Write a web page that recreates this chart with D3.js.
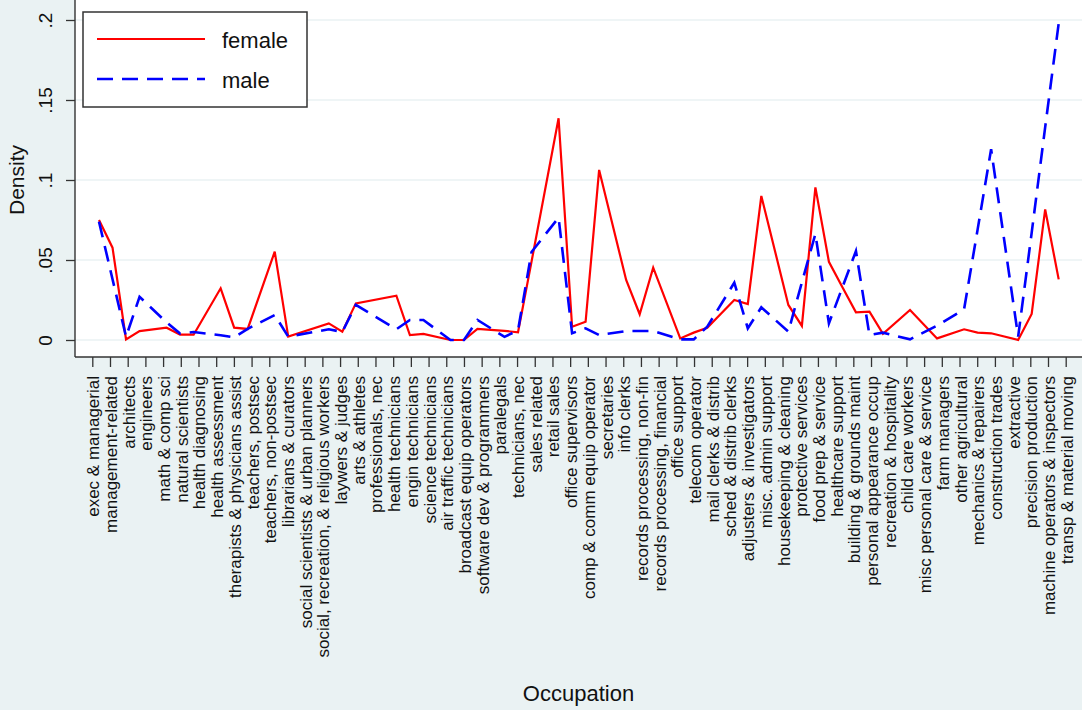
<!DOCTYPE html>
<html>
<head>
<meta charset="utf-8">
<script src="https://cdn.jsdelivr.net/npm/d3@7"></script>
<style>
  body { margin: 0; background: #eaf2f3; }
  svg text { font-family: "Liberation Sans", Arial, sans-serif; fill: #111; }
</style>
</head>
<body>
<div id="chart"></div>
<script>
// Occupation labels along the x axis (evenly spaced)
const occupations = [
  "exec & managerial", "management-related", "architects", "engineers",
  "math & comp sci", "natural scientists", "health diagnosing", "health assessment",
  "therapists & physicians assist", "teachers, postsec", "teachers, non-postsec",
  "librarians & curators", "social scientists & urban planners",
  "social, recreation, & religious workers", "laywers & judges", "arts & athletes",
  "professionals, nec", "health technicians", "engin technicians", "science technicians",
  "air traffic technicians", "broadcast equip operators", "software dev & programmers",
  "paralegals", "technicians, nec", "sales related", "retail sales", "office supervisors",
  "comp & comm equip operator", "secretaries", "info clerks", "records processing, non-fin",
  "records processing, financial", "office support", "telecom operator",
  "mail clerks & distrib", "sched & distrib clerks", "adjusters & investigators",
  "misc. admin support", "housekeeping & cleaning", "protective services",
  "food prep & service", "healthcare support", "building & grounds maint",
  "personal appearance occup", "recreation & hospitality", "child care workers",
  "misc personal care & service", "farm managers", "other agricultural",
  "mechanics & repairers", "construction trades", "extractive", "precision production",
  "machine operators & inspectors", "transp & material moving"
];

// Numeric occupation codes of the plotted points
const occCodes = [
  0, 1, 2, 3, 5, 6, 7, 9, 10, 11, 13, 14, 17, 18, 19, 22, 23, 24, 26, 27, 28,
  30, 31, 32, 34, 35, 36, 37, 39, 40, 41, 43, 44, 45, 47, 48, 49, 51, 52, 53,
  54, 55, 56, 57, 58, 60, 62, 64, 65, 66, 68, 69, 70, 71
];

const femaleDensity = [
  0.075, 0.0577, 0.0004, 0.0056, 0.0077, 0.0033, 0.0033, 0.0323, 0.0077, 0.0069,
  0.0552, 0.0021, 0.0104, 0.0052, 0.0229, 0.0277, 0.0031, 0.0038, 0.0, 0.0,
  0.0069, 0.0057, 0.0048, 0.049, 0.1386, 0.0083, 0.0114, 0.1063, 0.0375, 0.0161,
  0.0452, 0.001, 0.0046, 0.0077, 0.025, 0.0225, 0.09, 0.0219, 0.0088, 0.0954,
  0.0489, 0.033, 0.0173, 0.0177, 0.0038, 0.0188, 0.001, 0.0067, 0.0046, 0.0042,
  0.0, 0.0163, 0.0816, 0.0379
];

const maleDensity = [
  0.074, 0.038, 0.002, 0.027, 0.011, 0.004, 0.005, 0.003, 0.0017, 0.007,
  0.0156, 0.0021, 0.0067, 0.005, 0.0219, 0.0067, 0.0125, 0.0125, 0.0, 0.0,
  0.0125, 0.002, 0.006, 0.055, 0.0765, 0.0042, 0.0073, 0.0031, 0.0056, 0.0056,
  0.0056, 0.0004, 0.0004, 0.0083, 0.0358, 0.0073, 0.0204, 0.0052, 0.036, 0.0663,
  0.0104, 0.033, 0.0556, 0.0031, 0.0046, 0.0004, 0.009, 0.0192, 0.069, 0.1192,
  0.0021, 0.067, 0.133, 0.198
];

const yTicks = [0, 0.05, 0.1, 0.15, 0.2];

const series = [
  { name: "female", values: femaleDensity, color: "#ff0000", dash: null, width: 2.2 },
  { name: "male", values: maleDensity, color: "#0000ff", dash: "16,9", width: 2.6 }
];

const W = 1082, H = 710;
const plot = { left: 75, right: 1082, top: 0, bottom: 357 };

const svg = d3.select("#chart")
  .append("svg")
  .attr("width", W)
  .attr("height", H);

// outer background and white plot region
svg.append("rect").attr("width", W).attr("height", H).attr("fill", "#eaf2f3");
svg.append("rect")
  .attr("x", plot.left).attr("y", plot.top)
  .attr("width", plot.right - plot.left).attr("height", plot.bottom - plot.top)
  .attr("fill", "#ffffff");

// scales
const x = d3.scaleLinear().domain([0, 71]).range([99, 1058.7]);
const xLab = d3.scalePoint().domain(occupations).range([92.3, 1065.7]);
const y = d3.scaleLinear().domain([0, 0.2]).range([340, 20]);

// gridlines
svg.append("g")
  .selectAll("line")
  .data(yTicks)
  .join("line")
  .attr("x1", plot.left).attr("x2", plot.right)
  .attr("y1", d => y(d)).attr("y2", d => y(d))
  .attr("stroke", "#eaf2f3")
  .attr("stroke-width", 1.6);

// lines
const line = d3.line()
  .x((d, i) => x(occCodes[i]))
  .y(d => y(d));

series.forEach(s => {
  svg.append("path")
    .datum(s.values)
    .attr("fill", "none")
    .attr("stroke", s.color)
    .attr("stroke-width", s.width)
    .attr("stroke-dasharray", s.dash)
    .attr("stroke-linejoin", "miter")
    .attr("d", line);
});

// y axis
const yAxis = svg.append("g")
  .attr("transform", `translate(${plot.left},0)`)
  .call(d3.axisLeft(y)
    .tickValues(yTicks)
    .tickSize(9)
    .tickSizeOuter(0)
    .tickFormat(d => d === 0 ? "0" : String(+d.toFixed(2)).replace(/^0/, "")));
yAxis.select(".domain").remove();
yAxis.selectAll(".tick line").attr("stroke", "#333").attr("stroke-width", 1.3);
yAxis.selectAll(".tick text")
  .attr("transform", "rotate(-90)")
  .attr("text-anchor", "middle")
  .attr("x", 0)
  .attr("y", -23)
  .attr("dy", 0)
  .style("font-size", "19px")
  .style("fill", "#111");
svg.append("line")
  .attr("x1", plot.left).attr("x2", plot.left)
  .attr("y1", plot.top).attr("y2", plot.bottom)
  .attr("stroke", "#333").attr("stroke-width", 1.4);

// x axis
const xAxis = svg.append("g")
  .attr("transform", `translate(0,${plot.bottom})`)
  .call(d3.axisBottom(xLab).tickSize(10).tickSizeOuter(0));
xAxis.select(".domain").remove();
xAxis.selectAll(".tick line").attr("stroke", "#333").attr("stroke-width", 1.3);
xAxis.selectAll(".tick text")
  .attr("transform", "rotate(-90)")
  .attr("text-anchor", "end")
  .attr("x", -19)
  .attr("y", 6.5)
  .attr("dy", 0)
  .style("font-size", "17px")
  .style("fill", "#111");
svg.append("line")
  .attr("x1", plot.left).attr("x2", plot.right)
  .attr("y1", plot.bottom).attr("y2", plot.bottom)
  .attr("stroke", "#333").attr("stroke-width", 1.4);

// axis titles
svg.append("text")
  .attr("transform", "translate(24,180) rotate(-90)")
  .attr("text-anchor", "middle")
  .style("font-size", "21px")
  .text("Density");

svg.append("text")
  .attr("x", (plot.left + plot.right) / 2)
  .attr("y", 701)
  .attr("text-anchor", "middle")
  .style("font-size", "22px")
  .text("Occupation");

// legend
const legend = svg.append("g");
legend.append("rect")
  .attr("x", 83).attr("y", 12)
  .attr("width", 224).attr("height", 95)
  .attr("fill", "#ffffff")
  .attr("stroke", "#333")
  .attr("stroke-width", 1.5);

series.forEach((s, i) => {
  const ly = 39 + i * 40;
  legend.append("line")
    .attr("x1", 97).attr("x2", 205)
    .attr("y1", ly).attr("y2", ly)
    .attr("stroke", s.color)
    .attr("stroke-width", s.width)
    .attr("stroke-dasharray", s.dash);
  legend.append("text")
    .attr("x", 222).attr("y", ly + 9)
    .style("font-size", "22px")
    .text(s.name);
});
</script>
</body>
</html>
